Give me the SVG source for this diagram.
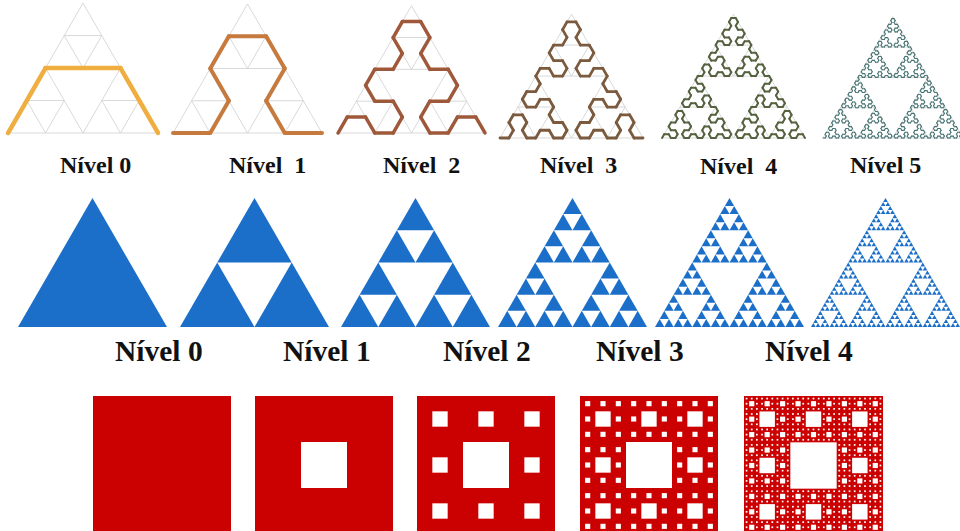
<svg xmlns="http://www.w3.org/2000/svg" xmlns:xlink="http://www.w3.org/1999/xlink" width="960" height="531" viewBox="0 0 960 531">
<style>
  .lbl { font-family: "Liberation Serif", "Times New Roman", serif; font-weight: bold; fill: #111; }
  .top { font-size: 24px; }
  .mid { font-size: 29.5px; }
  .grid { fill: none; stroke: #cfcfcf; stroke-width: 0.8; }
  .tri { fill: #1c6fc8; }
  .sq { fill: #cb0000; }
  .hole { fill: #ffffff; }
</style>
<defs>
  <!-- grid of the arrowhead panels (depth-2 Sierpinski outlines, side 150) -->
  <path id="grid" vector-effect="non-scaling-stroke" d="M0,0 l37.5,0 l-18.75,-32.476 z M37.5,0 l37.5,0 l-18.75,-32.476 z M18.75,-32.476 l37.5,0 l-18.75,-32.476 z M75,0 l37.5,0 l-18.75,-32.476 z M112.5,0 l37.5,0 l-18.75,-32.476 z M93.75,-32.476 l37.5,0 l-18.75,-32.476 z M37.5,-64.952 l37.5,0 l-18.75,-32.476 z M75,-64.952 l37.5,0 l-18.75,-32.476 z M56.25,-97.428 l37.5,0 l-18.75,-32.476 z"/>
  <!-- Sierpinski arrowhead curve, side 150 -->
  <g id="a0"><path d="M0,0 L150,0" vector-effect="non-scaling-stroke"/></g>
  <g id="a1">
    <use href="#a0" transform="rotate(-60) scale(0.5,-0.5)"/>
    <use href="#a0" transform="translate(37.5,-64.952) scale(0.5)"/>
    <use href="#a0" transform="translate(112.5,-64.952) rotate(60) scale(0.5,-0.5)"/>
  </g>
  <g id="a2">
    <use href="#a1" transform="rotate(-60) scale(0.5,-0.5)"/>
    <use href="#a1" transform="translate(37.5,-64.952) scale(0.5)"/>
    <use href="#a1" transform="translate(112.5,-64.952) rotate(60) scale(0.5,-0.5)"/>
  </g>
  <g id="a3">
    <use href="#a2" transform="rotate(-60) scale(0.5,-0.5)"/>
    <use href="#a2" transform="translate(37.5,-64.952) scale(0.5)"/>
    <use href="#a2" transform="translate(112.5,-64.952) rotate(60) scale(0.5,-0.5)"/>
  </g>
  <g id="a4">
    <use href="#a3" transform="rotate(-60) scale(0.5,-0.5)"/>
    <use href="#a3" transform="translate(37.5,-64.952) scale(0.5)"/>
    <use href="#a3" transform="translate(112.5,-64.952) rotate(60) scale(0.5,-0.5)"/>
  </g>
  <g id="a5">
    <use href="#a4" transform="rotate(-60) scale(0.5,-0.5)"/>
    <use href="#a4" transform="translate(37.5,-64.952) scale(0.5)"/>
    <use href="#a4" transform="translate(112.5,-64.952) rotate(60) scale(0.5,-0.5)"/>
  </g>
  <g id="a6">
    <use href="#a5" transform="rotate(-60) scale(0.5,-0.5)"/>
    <use href="#a5" transform="translate(37.5,-64.952) scale(0.5)"/>
    <use href="#a5" transform="translate(112.5,-64.952) rotate(60) scale(0.5,-0.5)"/>
  </g>
  <!-- Sierpinski triangle, side 150 -->
  <polygon id="s0" points="0,0 150,0 75,-129.904"/>
  <g id="s1"><use href="#s0" transform="scale(0.5)"/><use href="#s0" transform="translate(75,0) scale(0.5)"/><use href="#s0" transform="translate(37.5,-64.952) scale(0.5)"/></g>
  <g id="s2"><use href="#s1" transform="scale(0.5)"/><use href="#s1" transform="translate(75,0) scale(0.5)"/><use href="#s1" transform="translate(37.5,-64.952) scale(0.5)"/></g>
  <g id="s3"><use href="#s2" transform="scale(0.5)"/><use href="#s2" transform="translate(75,0) scale(0.5)"/><use href="#s2" transform="translate(37.5,-64.952) scale(0.5)"/></g>
  <g id="s4"><use href="#s3" transform="scale(0.5)"/><use href="#s3" transform="translate(75,0) scale(0.5)"/><use href="#s3" transform="translate(37.5,-64.952) scale(0.5)"/></g>
  <g id="s5"><use href="#s4" transform="scale(0.5)"/><use href="#s4" transform="translate(75,0) scale(0.5)"/><use href="#s4" transform="translate(37.5,-64.952) scale(0.5)"/></g>
  <!-- Sierpinski carpet holes, side 138 -->
  <rect id="h1" x="46" y="46" width="46" height="46"/>
  <g id="h2"><use href="#h1"/>
    <use href="#h1" transform="translate(0,0) scale(0.333333)"/><use href="#h1" transform="translate(46,0) scale(0.333333)"/><use href="#h1" transform="translate(92,0) scale(0.333333)"/>
    <use href="#h1" transform="translate(0,46) scale(0.333333)"/><use href="#h1" transform="translate(92,46) scale(0.333333)"/>
    <use href="#h1" transform="translate(0,92) scale(0.333333)"/><use href="#h1" transform="translate(46,92) scale(0.333333)"/><use href="#h1" transform="translate(92,92) scale(0.333333)"/>
  </g>
  <g id="h3"><use href="#h1"/>
    <use href="#h2" transform="translate(0,0) scale(0.333333)"/><use href="#h2" transform="translate(46,0) scale(0.333333)"/><use href="#h2" transform="translate(92,0) scale(0.333333)"/>
    <use href="#h2" transform="translate(0,46) scale(0.333333)"/><use href="#h2" transform="translate(92,46) scale(0.333333)"/>
    <use href="#h2" transform="translate(0,92) scale(0.333333)"/><use href="#h2" transform="translate(46,92) scale(0.333333)"/><use href="#h2" transform="translate(92,92) scale(0.333333)"/>
  </g>
  <g id="h4"><use href="#h1"/>
    <use href="#h3" transform="translate(0,0) scale(0.333333)"/><use href="#h3" transform="translate(46,0) scale(0.333333)"/><use href="#h3" transform="translate(92,0) scale(0.333333)"/>
    <use href="#h3" transform="translate(0,46) scale(0.333333)"/><use href="#h3" transform="translate(92,46) scale(0.333333)"/>
    <use href="#h3" transform="translate(0,92) scale(0.333333)"/><use href="#h3" transform="translate(46,92) scale(0.333333)"/><use href="#h3" transform="translate(92,92) scale(0.333333)"/>
  </g>
</defs>
<rect x="0" y="0" width="960" height="531" fill="#ffffff"/>

<!-- Row 1: Sierpinski arrowhead curve -->
<g id="curve-0">
  <use href="#grid" class="grid" transform="translate(8,133)"/>
  <use href="#a1" transform="translate(8,133)" fill="none" stroke="#efae3f" stroke-width="4.5" stroke-linecap="round"/>
  <text class="lbl top" x="60" y="173">Nível 0</text>
</g>
<g id="curve-1">
  <use href="#grid" class="grid" transform="translate(173,133) scale(0.9933)"/>
  <use href="#a2" transform="translate(173,133) scale(0.9933)" fill="none" stroke="#c77a3d" stroke-width="4" stroke-linecap="round"/>
  <text class="lbl top" x="229" y="173" xml:space="preserve">Nível  1</text>
</g>
<g id="curve-2">
  <use href="#grid" class="grid" transform="translate(338,133) scale(0.98)"/>
  <use href="#a3" transform="translate(338,133) scale(0.98)" fill="none" stroke="#9f593a" stroke-width="3.5" stroke-linecap="round"/>
  <text class="lbl top" x="383" y="173" xml:space="preserve">Nível  2</text>
</g>
<g id="curve-3">
  <use href="#grid" class="grid" transform="translate(500,138) scale(0.9533)"/>
  <use href="#a4" transform="translate(500,138) scale(0.9533)" fill="none" stroke="#7b5a3e" stroke-width="2.8" stroke-linecap="round"/>
  <text class="lbl top" x="540" y="173" xml:space="preserve">Nível  3</text>
</g>
<g id="curve-4">
  <use href="#grid" class="grid" transform="translate(662,138) scale(0.9533)"/>
  <use href="#a5" transform="translate(662,138) scale(0.9533)" fill="none" stroke="#55623f" stroke-width="2" stroke-linecap="round"/>
  <text class="lbl top" x="700" y="174" xml:space="preserve">Nível  4</text>
</g>
<g id="curve-5">
  <use href="#grid" class="grid" transform="translate(823,138) scale(0.9333)"/>
  <use href="#a6" transform="translate(823,138) scale(0.9333)" fill="none" stroke="#4b7676" stroke-width="1.1" stroke-linecap="round"/>
  <text class="lbl top" x="850" y="173">Nível 5</text>
</g>

<!-- Row 2: Sierpinski triangle -->
<g id="triangle-0"><use href="#s0" class="tri" transform="translate(18,327) scale(0.9933)"/></g>
<g id="triangle-1"><use href="#s1" class="tri" transform="translate(180,327) scale(0.9933)"/></g>
<g id="triangle-2"><use href="#s2" class="tri" transform="translate(341,327) scale(0.9933)"/></g>
<g id="triangle-3"><use href="#s3" class="tri" transform="translate(498,327) scale(0.9933)"/></g>
<g id="triangle-4"><use href="#s4" class="tri" transform="translate(655,327) scale(0.9933)"/></g>
<g id="triangle-5"><use href="#s5" class="tri" transform="translate(811,327) scale(0.9933)"/></g>
<g id="triangle-labels">
  <text class="lbl mid" x="115" y="361">Nível 0</text>
  <text class="lbl mid" x="283" y="361">Nível 1</text>
  <text class="lbl mid" x="443" y="361">Nível 2</text>
  <text class="lbl mid" x="596" y="361">Nível 3</text>
  <text class="lbl mid" x="765" y="361">Nível 4</text>
</g>

<!-- Row 3: Sierpinski carpet -->
<g id="carpet-0"><rect class="sq" x="93" y="396" width="138" height="138"/></g>
<g id="carpet-1"><rect class="sq" x="255" y="396" width="138" height="138"/><use href="#h1" class="hole" transform="translate(255,396)"/></g>
<g id="carpet-2"><rect class="sq" x="417" y="396" width="138" height="138"/><use href="#h2" class="hole" transform="translate(417,396)"/></g>
<g id="carpet-3"><rect class="sq" x="580" y="396" width="138" height="138"/><use href="#h3" class="hole" transform="translate(580,396)"/></g>
<g id="carpet-4"><rect class="sq" x="744" y="396" width="139" height="139"/><use href="#h4" class="hole" transform="translate(744,396) scale(1.00725)"/></g>
</svg>
